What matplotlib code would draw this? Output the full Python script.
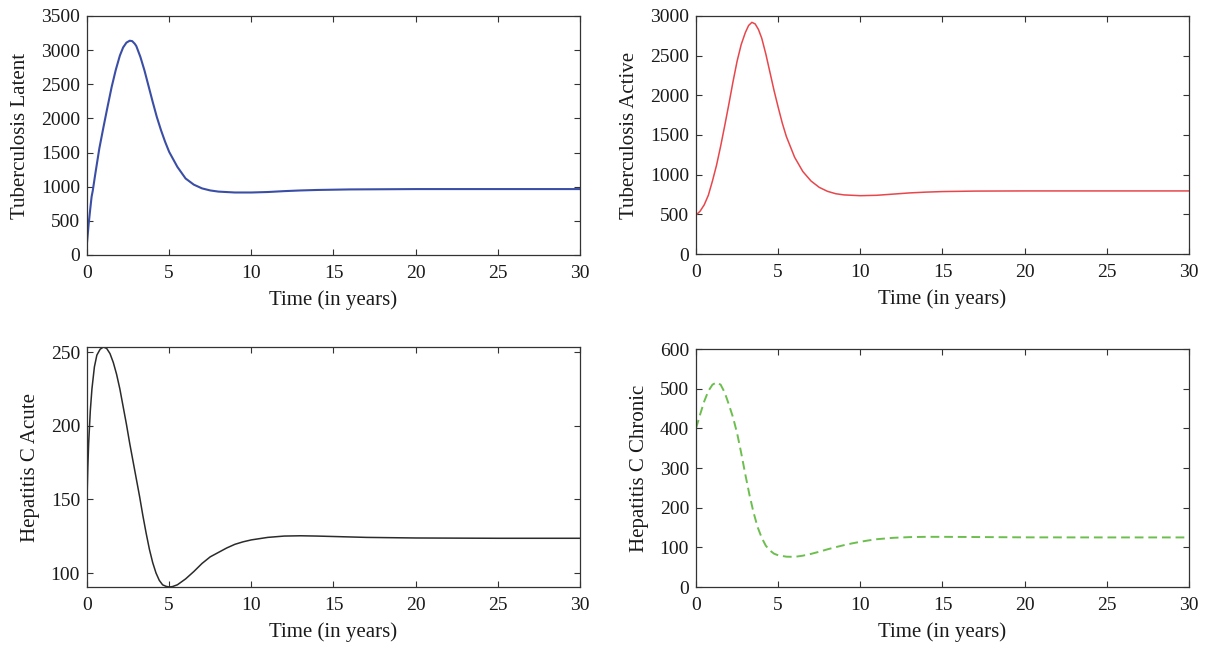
import matplotlib
matplotlib.use("Agg")
import matplotlib.pyplot as plt

plt.rcParams["font.family"] = ["Liberation Serif", "DejaVu Serif"]
plt.rcParams["font.size"] = 14

# Tuberculosis latent
t_lat = [0, 0.1, 0.2, 0.28, 0.35, 0.5, 0.75, 1.0, 1.25, 1.5, 1.75, 2.0, 2.2, 2.4,
         2.6, 2.75, 2.9, 3.0, 3.25, 3.5, 3.75, 4.0, 4.25, 4.5, 4.75, 5.0, 5.5,
         6.0, 6.5, 7.0, 7.5, 8, 9, 10, 11, 12, 13, 14, 16, 20, 25, 30]
tb_latent = [180, 450, 680, 853, 940, 1180, 1560, 1870, 2170, 2460, 2710, 2920,
             3040, 3110, 3138, 3132, 3095, 3060, 2900, 2700, 2470, 2240, 2020,
             1830, 1660, 1510, 1290, 1120, 1030, 975, 945, 928, 915, 915, 922,
             935, 945, 952, 960, 965, 965, 965]

# Tuberculosis active
t_act = [0, 0.25, 0.5, 0.75, 1.0, 1.25, 1.5, 1.75, 2.0, 2.25, 2.5, 2.75, 3.0,
         3.2, 3.4, 3.6, 3.8, 4.0, 4.25, 4.5, 4.75, 5.0, 5.25, 5.5, 6.0, 6.5,
         7.0, 7.5, 8.0, 8.5, 9.0, 10, 11, 12, 13, 14, 15, 17, 20, 25, 30]
tb_active = [490, 540, 620, 740, 920, 1120, 1360, 1620, 1890, 2170, 2430, 2640,
             2790, 2880, 2920, 2900, 2830, 2720, 2520, 2290, 2060, 1850, 1650,
             1480, 1220, 1040, 920, 840, 790, 760, 745, 735, 740, 755, 770, 780,
             787, 793, 795, 795, 795]

# Hepatitis C acute
t_acu = [0, 0.05, 0.1, 0.2, 0.3, 0.45, 0.6, 0.8, 1.0, 1.2, 1.4, 1.6, 1.8, 2.0,
         2.2, 2.4, 2.6, 2.8, 3.0, 3.2, 3.4, 3.6, 3.8, 4.0, 4.2, 4.4, 4.6, 4.8,
         5.0, 5.2, 5.5, 6.0, 6.5, 7.0, 7.5, 8.0, 8.5, 9.0, 9.5, 10, 11, 12, 13,
         14, 15, 17, 20, 25, 30]
hc_acute = [150, 172, 188, 210, 225, 240, 248, 252, 253.5, 252.5, 249, 243, 235,
            225, 213, 201, 188, 176, 164, 152, 139, 127, 116, 107, 100, 95, 92,
            91, 90.5, 90.8, 92, 96, 101, 106.5, 111, 114, 117, 119.5, 121.2,
            122.5, 124.2, 125.1, 125.3, 125.1, 124.8, 124.2, 123.8, 123.6, 123.6]

# Hepatitis C chronic
t_chr = [0, 0.25, 0.5, 0.75, 1.0, 1.25, 1.5, 1.75, 2.0, 2.25, 2.5, 2.75, 3.0,
         3.25, 3.5, 3.75, 4.0, 4.25, 4.5, 4.75, 5.0, 5.5, 6.0, 6.5, 7.0, 7.5,
         8.0, 8.5, 9.0, 9.5, 10, 10.5, 11, 12, 13, 14, 15, 17, 20, 25, 30]
hc_chronic = [400, 435, 468, 494, 510, 516, 510, 490, 460, 428, 388, 338, 284,
              233, 188, 151, 124, 104, 92, 84, 80, 76.5, 76, 79, 83.5, 89, 95,
              100.5, 105.5, 110, 114, 117.5, 120.5, 124, 125.8, 126.5, 126.5,
              126, 125.2, 125, 125]

xticks = [0, 5, 10, 15, 20, 25, 30]

fig = plt.figure(figsize=(12.05, 6.45), dpi=100)
ax1 = fig.add_axes([0.0722, 0.6047, 0.4091, 0.3705])
ax2 = fig.add_axes([0.5776, 0.6062, 0.4091, 0.3690])
ax3 = fig.add_axes([0.0722, 0.0899, 0.4091, 0.3721])
ax4 = fig.add_axes([0.5776, 0.0899, 0.4091, 0.3690])

ax1.plot(t_lat, tb_latent, color="#3b4ea6", lw=1.5)
ax1.set_ylim(0, 3500)
ax1.set_yticks(range(0, 3501, 500))
ax1.set_ylabel("Tuberculosis Latent", fontsize=15, labelpad=8)

ax2.plot(t_act, tb_active, color="#e8464b", lw=1.1)
ax2.set_ylim(0, 3000)
ax2.set_yticks(range(0, 3001, 500))
ax2.set_ylabel("Tuberculosis Active", fontsize=15, labelpad=8)

ax3.plot(t_acu, hc_acute, color="#2b2b2b", lw=1.1)
ax3.set_ylim(min(hc_acute), max(hc_acute))
ax3.set_yticks([100, 150, 200, 250])
ax3.set_ylabel("Hepatitis C Acute", fontsize=15, labelpad=8)

ax4.plot(t_chr, hc_chronic, color="#6cbf4e", lw=1.4, dashes=(4.5, 2.5))
ax4.set_ylim(0, 600)
ax4.set_yticks(range(0, 601, 100))
ax4.set_ylabel("Hepatitis C Chronic", fontsize=15, labelpad=8)

for ax in [ax1, ax2, ax3, ax4]:
    ax.set_xlim(0, 30)
    ax.set_xticks(xticks)
    ax.set_xlabel("Time (in years)", fontsize=15, labelpad=6)
    ax.tick_params(direction="in", top=True, right=True, length=4,
                   width=0.8, color="#333333", labelcolor="#1a1a1a", pad=5)
    ax.tick_params(axis="x", pad=7)
    for s in ax.spines.values():
        s.set_color("#333333")
        s.set_linewidth(0.9)
    ax.yaxis.label.set_color("#1a1a1a")
    ax.xaxis.label.set_color("#1a1a1a")

fig.savefig("out.png", dpi=100)
